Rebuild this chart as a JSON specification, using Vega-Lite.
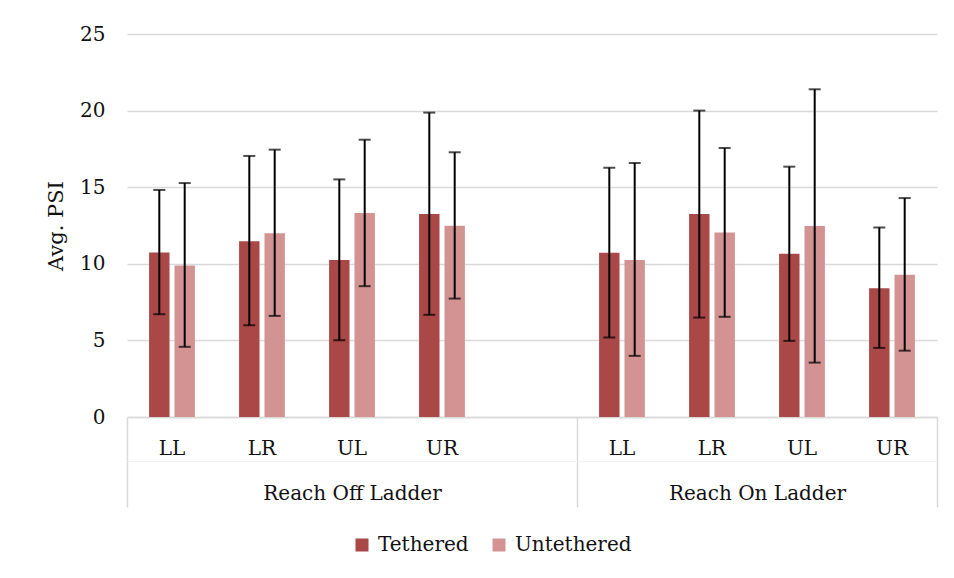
{
  "$schema": "https://vega.github.io/schema/vega-lite/v6.json",
  "width": 810,
  "height": 383,
  "autosize": {"type": "none"},
  "padding": {"left": 127, "top": 34, "right": 17, "bottom": 161},
  "background": "#ffffff",
  "config": {
    "view": {"stroke": null},
    "font": "DejaVu Serif",
    "axis": {"labelFont": "DejaVu Serif", "titleFont": "DejaVu Serif", "labelColor": "#111111", "titleColor": "#111111"},
    "legend": {"labelFont": "DejaVu Serif", "labelColor": "#111111"}
  },
  "data": {
    "values": [
      {"category": "Reach Off Ladder|LL", "series": "Tethered", "mean": 10.74, "lo": 6.71, "hi": 14.82},
      {"category": "Reach Off Ladder|LL", "series": "Untethered", "mean": 9.89, "lo": 4.58, "hi": 15.27},
      {"category": "Reach Off Ladder|LR", "series": "Tethered", "mean": 11.48, "lo": 5.99, "hi": 17.04},
      {"category": "Reach Off Ladder|LR", "series": "Untethered", "mean": 12.0, "lo": 6.6, "hi": 17.45},
      {"category": "Reach Off Ladder|UL", "series": "Tethered", "mean": 10.24, "lo": 5.01, "hi": 15.51},
      {"category": "Reach Off Ladder|UL", "series": "Untethered", "mean": 13.31, "lo": 8.54, "hi": 18.1},
      {"category": "Reach Off Ladder|UR", "series": "Tethered", "mean": 13.25, "lo": 6.67, "hi": 19.87},
      {"category": "Reach Off Ladder|UR", "series": "Untethered", "mean": 12.48, "lo": 7.73, "hi": 17.28},
      {"category": "Reach On Ladder|LL", "series": "Tethered", "mean": 10.72, "lo": 5.19, "hi": 16.27},
      {"category": "Reach On Ladder|LL", "series": "Untethered", "mean": 10.24, "lo": 3.99, "hi": 16.58},
      {"category": "Reach On Ladder|LR", "series": "Tethered", "mean": 13.25, "lo": 6.49, "hi": 20.0},
      {"category": "Reach On Ladder|LR", "series": "Untethered", "mean": 12.05, "lo": 6.54, "hi": 17.56},
      {"category": "Reach On Ladder|UL", "series": "Tethered", "mean": 10.65, "lo": 4.97, "hi": 16.34},
      {"category": "Reach On Ladder|UL", "series": "Untethered", "mean": 12.46, "lo": 3.55, "hi": 21.39},
      {"category": "Reach On Ladder|UR", "series": "Tethered", "mean": 8.41, "lo": 4.51, "hi": 12.37},
      {"category": "Reach On Ladder|UR", "series": "Untethered", "mean": 9.28, "lo": 4.33, "hi": 14.29}
    ]
  },
  "resolve": {"scale": {"x": "independent"}, "axis": {"x": "independent"}},
  "layer": [
    {
      "encoding": {
        "x": {
          "field": "category",
          "type": "nominal",
          "sort": null,
          "scale": {
            "type": "band",
            "paddingInner": 0,
            "paddingOuter": 0,
            "domain": ["Reach Off Ladder|LL", "Reach Off Ladder|LR", "Reach Off Ladder|UL", "Reach Off Ladder|UR", "Reach Off Ladder|", "Reach On Ladder|LL", "Reach On Ladder|LR", "Reach On Ladder|UL", "Reach On Ladder|UR"]
          },
          "axis": {
            "orient": "bottom",
            "title": null,
            "labelExpr": "split(datum.value, '|')[1]",
            "labelAngle": 0,
            "labelFontSize": 20,
            "labelPadding": 21,
            "labelBaseline": "top",
            "ticks": false,
            "domain": true,
            "domainColor": "#d9d9d9",
            "domainWidth": 1.5,
            "grid": false
          }
        },
        "xOffset": {
          "field": "series",
          "type": "nominal",
          "scale": {"domain": ["Tethered", "Untethered"], "paddingInner": 0.196, "paddingOuter": 0.87}
        }
      },
      "layer": [
        {
          "mark": {"type": "bar"},
          "encoding": {
            "y": {
              "field": "mean",
              "type": "quantitative",
              "scale": {"domain": [0, 25], "nice": false},
              "axis": {
                "title": "Avg. PSI",
                "titleFontSize": 21,
                "titleFontWeight": "normal",
                "titlePadding": 13,
                "values": [0, 5, 10, 15, 20, 25],
                "labelFontSize": 20,
                "labelPadding": 22,
                "ticks": false,
                "tickSize": 0,
                "domain": false,
                "grid": true,
                "gridColor": "#d9d9d9",
                "gridWidth": 1.5
              }
            },
            "color": {
              "field": "series",
              "type": "nominal",
              "scale": {"domain": ["Tethered", "Untethered"], "range": ["#AA4747", "#D39393"]},
              "legend": {
                "title": null,
                "orient": "none",
                "legendX": 225,
                "legendY": 501,
                "direction": "horizontal",
                "symbolType": "square",
                "symbolSize": 169,
                "symbolStrokeWidth": 0,
                "labelFontSize": 20,
                "labelOffset": 6,
                "columnPadding": 20,
                "padding": 0
              }
            }
          }
        },
        {
          "mark": {"type": "rule", "color": "#000000", "strokeWidth": 2},
          "encoding": {
            "y": {"field": "lo", "type": "quantitative"},
            "y2": {"field": "hi"}
          }
        },
        {
          "mark": {"type": "tick", "color": "#000000", "size": 12, "thickness": 2},
          "encoding": {"y": {"field": "hi", "type": "quantitative"}}
        },
        {
          "mark": {"type": "tick", "color": "#000000", "size": 12, "thickness": 2},
          "encoding": {"y": {"field": "lo", "type": "quantitative"}}
        }
      ]
    },
    {
      "mark": {"type": "rule", "opacity": 0},
      "encoding": {
        "x": {
          "datum": 0,
          "type": "quantitative",
          "scale": {"domain": [0, 9], "nice": false, "zero": false},
          "axis": {
            "orient": "bottom",
            "title": null,
            "values": [0, 5, 9],
            "labels": false,
            "ticks": true,
            "tickSize": 90,
            "tickColor": "#d9d9d9",
            "tickWidth": 1.5,
            "domain": false,
            "grid": false
          }
        }
      }
    },
    {
      "mark": {"type": "rule", "opacity": 0},
      "encoding": {
        "x": {
          "datum": 0,
          "type": "quantitative",
          "scale": {"domain": [0, 9], "nice": false, "zero": false},
          "axis": {
            "orient": "bottom",
            "offset": 44,
            "title": null,
            "values": [2.5, 7],
            "labelExpr": "datum.value < 5 ? 'Reach Off Ladder' : 'Reach On Ladder'",
            "labelFontSize": 20,
            "labelPadding": 22,
            "labelBaseline": "top",
            "labelFlush": false,
            "labelOverlap": false,
            "ticks": false,
            "domain": true,
            "domainColor": "#f2f2f2",
            "domainWidth": 1,
            "grid": false
          }
        }
      }
    }
  ]
}
